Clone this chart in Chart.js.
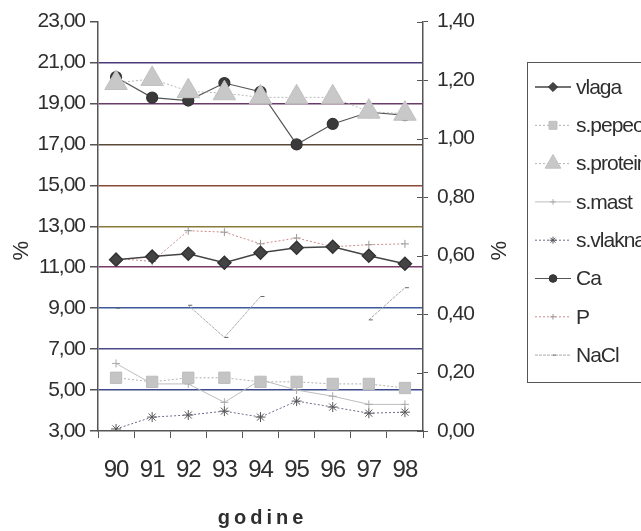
<!DOCTYPE html>
<html>
<head>
<meta charset="utf-8">
<script src="https://cdn.jsdelivr.net/npm/chart.js@4.4.1/dist/chart.umd.min.js"></script>
<style>
html, body { margin: 0; padding: 0; background: #fff; }
#wrap { width: 641px; height: 531px; position: relative; }
</style>
</head>
<body>
<div id="wrap"><canvas id="chart"></canvas></div>
<script>
// godine (x os)
const years = ['90', '91', '92', '93', '94', '95', '96', '97', '98'];

// lijeva os, %
const vlaga = [11.37, 11.52, 11.66, 11.22, 11.71, 11.95, 12.0, 11.56, 11.17];
const sPepeo = [5.6, 5.4, 5.6, 5.6, 5.4, 5.4, 5.3, 5.3, 5.1];
const sProtein = [20.0, 20.2, 19.6, 19.5, 19.3, 19.3, 19.3, 18.6, 18.5];
const sMast = [6.3, 5.3, 5.3, 4.4, 5.5, 5.0, 4.7, 4.3, 4.3];
const sVlakna = [3.1, 3.68, 3.78, 3.97, 3.68, 4.46, 4.17, 3.87, 3.92];

// desna os, %
const ca = [1.21, 1.14, 1.13, 1.19, 1.16, 0.98, 1.05, 1.09, 1.08];
const p = [0.59, 0.58, 0.685, 0.68, 0.64, 0.66, 0.63, 0.637, 0.64];
const nacl = [0.42, null, 0.43, 0.32, 0.46, null, null, 0.38, 0.49];

const fontFam = '"Liberation Sans", Arial, sans-serif';
const axisColor = '#555';
const textColor = '#2e2e2e';

// boje horizontalnih linija (skenirano, pa su malo razlicite)
const gridColors = {
    5: '#3c4a8c', 7: '#4a4a8a', 9: '#3c5a9a', 11: '#7a3a6a', 13: '#8a7a3a',
    15: '#8a4a3a', 17: '#5a4a3a', 19: '#6a3a6a', 21: '#4a3a7a'
};

function comma(v) {
    return v.toFixed(2).replace('.', ',');
}

// legenda desno, odsjecena na rubu
const legendBox = {
    id: 'legendBox',
    afterDraw(chart) {
        const ctx = chart.ctx;
        ctx.save();
        ctx.letterSpacing = '-1px';
        ctx.strokeStyle = axisColor;
        ctx.lineWidth = 1;
        ctx.strokeRect(527.5, 62.5, 140, 320);
        ctx.font = '21px ' + fontFam;
        ctx.textBaseline = 'middle';
        ctx.textAlign = 'left';
        chart.data.datasets.forEach((ds, i) => {
            const y = 87 + i * 38.3;
            ctx.strokeStyle = ds.borderColor;
            ctx.lineWidth = ds.borderWidth;
            ctx.setLineDash(ds.borderDash || []);
            ctx.beginPath();
            ctx.moveTo(535, y);
            ctx.lineTo(571, y);
            ctx.stroke();
            ctx.setLineDash([]);
            ctx.fillStyle = ds.pointBackgroundColor;
            ctx.strokeStyle = ds.pointBorderColor;
            ctx.lineWidth = 1;
            Chart.helpers.drawPoint(ctx, {
                pointStyle: ds.pointStyle, rotation: 0,
                radius: ds.pointRadius * 0.7, borderWidth: 1
            }, 553, y);
            ctx.fillStyle = textColor;
            ctx.fillText(ds.label, 576, y + 1);
        });
        ctx.restore();
    }
};

// naslovi osi i unutarnje crtice desne osi
const axisTitles = {
    id: 'axisTitles',
    beforeDraw(chart) {
        chart.ctx.letterSpacing = '-1px';
    },
    afterDraw(chart) {
        const ctx = chart.ctx;
        const area = chart.chartArea;
        const y1 = chart.scales.y1;
        ctx.save();
        ctx.strokeStyle = axisColor;
        ctx.lineWidth = 1;
        y1.ticks.forEach(t => {
            const yy = Math.round(y1.getPixelForValue(t.value)) + 0.5;
            ctx.beginPath();
            ctx.moveTo(area.right - 6, yy);
            ctx.lineTo(area.right, yy);
            ctx.stroke();
        });

        ctx.fillStyle = textColor;
        ctx.font = '22px ' + fontFam;
        ctx.textAlign = 'center';
        ctx.textBaseline = 'middle';
        const midY = (area.top + area.bottom) / 2 + 25;
        [22, 500].forEach(x => {
            ctx.save();
            ctx.translate(x, midY);
            ctx.rotate(-Math.PI / 2);
            ctx.fillText('%', 0, 0);
            ctx.restore();
        });

        ctx.letterSpacing = '4px';
        ctx.font = 'bold 20px ' + fontFam;
        ctx.fillText('godine', (area.left + area.right) / 2 + 2, 518);
        ctx.restore();
    }
};

const ctx = document.getElementById('chart');

new Chart(ctx, {
    type: 'line',
    data: {
        labels: years,
        datasets: [
            {
                label: 'vlaga', data: vlaga, yAxisID: 'y',
                borderColor: '#444', borderWidth: 1.5,
                pointStyle: 'rectRot', pointRadius: 6.5,
                pointBackgroundColor: '#444', pointBorderColor: '#333'
            },
            {
                label: 's.pepeo', data: sPepeo, yAxisID: 'y',
                borderColor: '#b0b0b0', borderWidth: 1, borderDash: [2, 2],
                pointStyle: 'rect', pointRadius: 8,
                pointBackgroundColor: '#c4c4c4', pointBorderColor: '#bdbdbd'
            },
            {
                label: 's.protein', data: sProtein, yAxisID: 'y',
                borderColor: '#b8b8b8', borderWidth: 1, borderDash: [2, 2],
                pointStyle: 'triangle', pointRadius: 13,
                pointBackgroundColor: '#c8c8c8', pointBorderColor: '#c0c0c0'
            },
            {
                label: 's.mast', data: sMast, yAxisID: 'y',
                borderColor: '#bdbdbd', borderWidth: 1,
                pointStyle: 'cross', pointRadius: 4,
                pointBackgroundColor: '#aaa', pointBorderColor: '#aaa'
            },
            {
                label: 's.vlakna', data: sVlakna, yAxisID: 'y',
                borderColor: '#6a6a90', borderWidth: 1, borderDash: [2, 2],
                pointStyle: 'star', pointRadius: 5,
                pointBackgroundColor: '#555', pointBorderColor: '#555'
            },
            {
                label: 'Ca', data: ca, yAxisID: 'y1',
                borderColor: '#555', borderWidth: 1.2,
                pointStyle: 'circle', pointRadius: 5.5,
                pointBackgroundColor: '#3a3a3a', pointBorderColor: '#333'
            },
            {
                label: 'P', data: p, yAxisID: 'y1',
                borderColor: '#d08a8a', borderWidth: 1, borderDash: [2, 2],
                pointStyle: 'cross', pointRadius: 4,
                pointBackgroundColor: '#999', pointBorderColor: '#999'
            },
            {
                label: 'NaCl', data: nacl, yAxisID: 'y1',
                borderColor: '#a8a8a8', borderWidth: 1, borderDash: [3, 1],
                pointStyle: 'dash', pointRadius: 4,
                pointBackgroundColor: '#666', pointBorderColor: '#666'
            }
        ]
    },
    options: {
        responsive: true,
        maintainAspectRatio: false,
        animation: false,
        layout: { padding: { top: 20, left: 0, right: 0, bottom: 0 } },
        plugins: {
            legend: { display: false },
            tooltip: { enabled: false }
        },
        scales: {
            x: {
                offset: true,
                grid: {
                    offset: true, drawOnChartArea: false, drawTicks: true,
                    tickLength: 7, color: axisColor, tickColor: axisColor
                },
                border: { color: axisColor, width: 1.5 },
                ticks: {
                    font: { size: 24, family: fontFam }, color: textColor,
                    padding: 18, maxRotation: 0, autoSkip: false
                },
                afterFit: s => { s.height = 100; }
            },
            y: {
                position: 'left', min: 3, max: 23,
                ticks: {
                    stepSize: 2, callback: v => comma(v),
                    font: { size: 21, family: fontFam }, color: textColor, padding: 5
                },
                grid: {
                    color: c => gridColors[c.tick.value] || 'rgba(0,0,0,0)',
                    lineWidth: 1.5, tickLength: 8, tickColor: axisColor
                },
                border: { color: axisColor, width: 1.5 },
                afterFit: s => { s.width = 98; }
            },
            y1: {
                position: 'right', min: 0, max: 1.4,
                ticks: {
                    stepSize: 0.2, callback: v => comma(v),
                    font: { size: 21, family: fontFam }, color: textColor, padding: 9
                },
                grid: { drawOnChartArea: false, tickLength: 5, color: axisColor },
                border: { color: axisColor, width: 1.5 },
                afterFit: s => { s.width = 218; }
            }
        }
    },
    plugins: [legendBox, axisTitles]
});
</script>
</body>
</html>
